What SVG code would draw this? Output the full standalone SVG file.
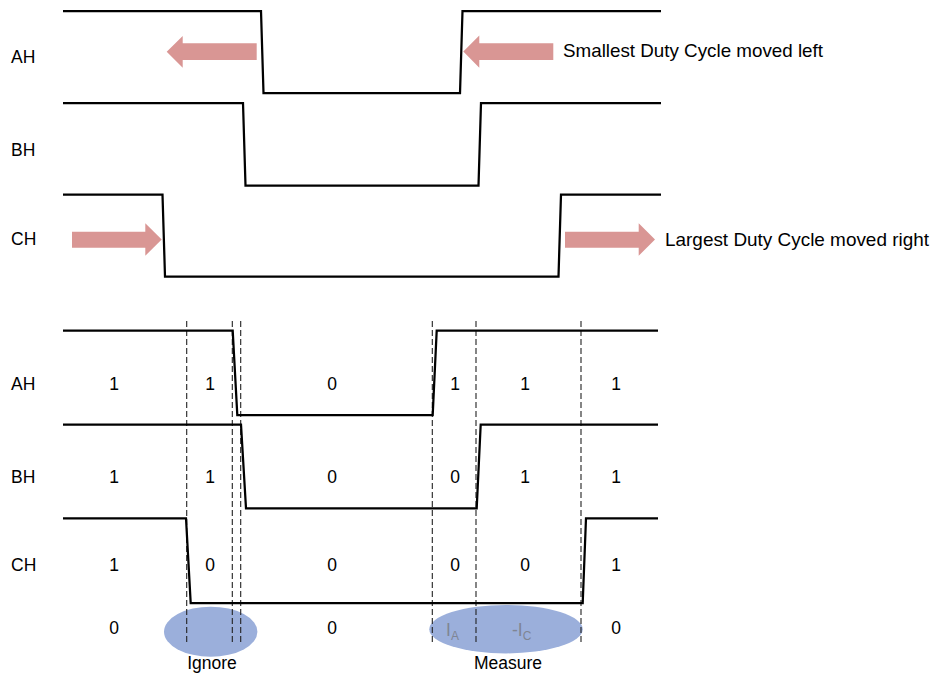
<svg xmlns="http://www.w3.org/2000/svg" width="932" height="674" viewBox="0 0 932 674">
<style>
.wave{fill:none;stroke:#000;stroke-width:2.25;stroke-linejoin:miter}
.dash{fill:none;stroke:#222;stroke-width:1.1;stroke-dasharray:6,3}
.arrow{fill:#D99694}
.ell{fill:#9BAFDB}
text{font-family:"Liberation Sans",Arial,sans-serif;font-size:17.5px;fill:#000}
.lbl{font-size:17.5px}
.big{font-size:19px}
.num{text-anchor:middle}
.cur{fill:#7F8593;font-size:17.5px}
.sub{font-size:12px}
</style>
<rect width="932" height="674" fill="#fff"/>

<g id="top-waveforms">
  <g id="top-AH"><text class="lbl" x="11" y="63">AH</text><path class="wave" d="M63,11 H261 L263.5,93 H460 L462.5,11 H661"/></g>
  <g id="top-BH"><text class="lbl" x="11" y="156">BH</text><path class="wave" d="M63,103 H243 L245.5,185.5 H478.5 L481,103 H661"/></g>
  <g id="top-CH"><text class="lbl" x="11" y="245">CH</text><path class="wave" d="M63,194.5 H162.5 L165,276.5 H558.5 L561,194.5 H661"/></g>
</g>

<g id="connectors">
  <polygon class="arrow" points="166.7,51.8 182.7,36 182.7,43.3 256.7,43.3 256.7,60 182.7,60 182.7,67.8"/>
  <polygon class="arrow" points="463.3,51.6 479.3,35.5 479.3,43.3 553.3,43.3 553.3,60 479.3,60 479.3,67.7"/>
  <polygon class="arrow" points="72,231.7 145.3,231.7 145.3,223.3 161.7,239.5 145.3,255.7 145.3,247.7 72,247.7"/>
  <polygon class="arrow" points="565,231.7 638.7,231.7 638.7,223.3 655,239.5 638.7,255.7 638.7,247.7 565,247.7"/>
</g>

<g id="notes">
  <text class="big" x="563" y="57" textLength="260" lengthAdjust="spacingAndGlyphs">Smallest Duty Cycle moved left</text>
  <text class="big" x="665" y="245.5" textLength="264" lengthAdjust="spacingAndGlyphs">Largest Duty Cycle moved right</text>
</g>

<g id="ignore">
  <ellipse class="ell" cx="210.7" cy="631.7" rx="46.7" ry="25"/>
  <text class="num" x="212" y="669">Ignore</text>
</g>
<g id="measure">
  <ellipse class="ell" cx="506" cy="629.2" rx="76.7" ry="24.2"/>
  <text class="num" x="508" y="669">Measure</text>
  <text class="cur" x="446" y="636">I<tspan class="sub" dy="4">A</tspan></text>
  <text class="cur" x="512" y="636">-I<tspan class="sub" dy="4">C</tspan></text>
</g>

<g id="dashes">
  <line class="dash" x1="186.7" y1="321" x2="186.7" y2="643"/>
  <line class="dash" x1="232.3" y1="321" x2="232.3" y2="643"/>
  <line class="dash" x1="240.7" y1="321" x2="240.7" y2="643"/>
  <line class="dash" x1="432.3" y1="321" x2="432.3" y2="643"/>
  <line class="dash" x1="476" y1="321" x2="476" y2="643"/>
  <line class="dash" x1="581" y1="321" x2="581" y2="643"/>
</g>

<g id="bottom-waveforms">
  <g id="bot-AH"><text class="lbl" x="11" y="390">AH</text><path class="wave" d="M63,330.7 H232.7 L237.3,415 H432.7 L436.7,330.7 H658"/></g>
  <g id="bot-BH"><text class="lbl" x="11" y="483">BH</text><path class="wave" d="M63,424.5 H241 L246,508.3 H476.7 L480.7,424.5 H658"/></g>
  <g id="bot-CH"><text class="lbl" x="11" y="571">CH</text><path class="wave" d="M63,518.3 H186 L190.7,603 H582.7 L586,518.3 H658"/></g>
</g>

<g id="states">
  <g id="row-AH">
    <text class="num" x="114" y="390">1</text><text class="num" x="210" y="390">1</text><text class="num" x="332" y="390">0</text>
    <text class="num" x="455" y="390">1</text><text class="num" x="525" y="390">1</text><text class="num" x="616" y="390">1</text>
  </g>
  <g id="row-BH">
    <text class="num" x="114" y="483">1</text><text class="num" x="210" y="483">1</text><text class="num" x="332" y="483">0</text>
    <text class="num" x="455" y="483">0</text><text class="num" x="525" y="483">1</text><text class="num" x="616" y="483">1</text>
  </g>
  <g id="row-CH">
    <text class="num" x="114" y="571">1</text><text class="num" x="210" y="571">0</text><text class="num" x="332" y="571">0</text>
    <text class="num" x="455" y="571">0</text><text class="num" x="525" y="571">0</text><text class="num" x="616" y="571">1</text>
  </g>
  <g id="row-current">
    <text class="num" x="114" y="633.5">0</text><text class="num" x="332" y="633.5">0</text><text class="num" x="616" y="633.5">0</text>
  </g>
</g>
</svg>
